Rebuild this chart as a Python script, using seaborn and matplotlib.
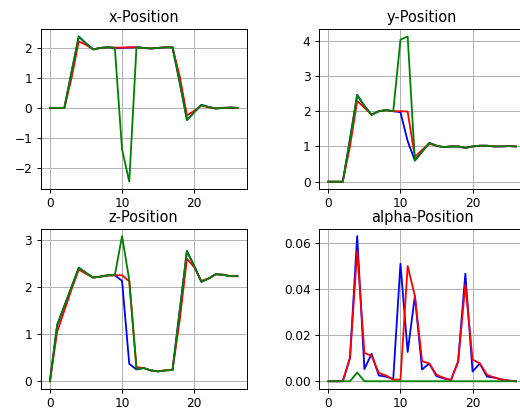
import numpy as np
import pandas as pd
import matplotlib
matplotlib.use('Agg')
import matplotlib.pyplot as plt
import seaborn as sns

# time steps
t = list(range(27))

# x-Position
x_blue = [0, 0, 0, 1.2, 2.38, 2.15, 1.95, 2.0, 2.02, 2.0, 2.0, 2.01, 2.02, 2.0, 1.98, 2.0, 2.02, 2.02,
          0.85, -0.4, -0.15, 0.1, 0.03, -0.02, 0.0, 0.01, 0.0]
x_red = [0, 0, 0, 1.0, 2.22, 2.1, 1.95, 2.0, 2.02, 2.01, 2.01, 2.02, 2.02, 2.0, 1.98, 2.0, 2.02, 2.02,
         1.05, -0.25, -0.1, 0.08, 0.02, -0.02, 0.0, 0.01, 0.0]
x_green = [0, 0, 0, 1.2, 2.38, 2.15, 1.95, 2.0, 2.02, 2.0, -1.38, -2.46, 2.02, 2.0, 1.98, 2.0, 2.02, 2.02,
           0.85, -0.4, -0.15, 0.1, 0.03, -0.02, 0.0, 0.01, 0.0]

# y-Position
y_blue = [0, 0, 0, 1.2, 2.46, 2.15, 1.9, 2.0, 2.03, 2.0, 1.97, 1.15, 0.6, 0.85, 1.1, 1.02, 0.98, 1.0,
          1.0, 0.96, 1.0, 1.02, 1.02, 1.0, 1.0, 1.01, 1.0]
y_red = [0, 0, 0, 1.0, 2.29, 2.1, 1.9, 2.0, 2.03, 2.0, 2.0, 1.99, 0.7, 0.9, 1.08, 1.02, 0.98, 1.0,
         1.0, 0.96, 1.0, 1.02, 1.02, 1.0, 1.0, 1.01, 1.0]
y_green = [0, 0, 0, 1.2, 2.46, 2.15, 1.9, 2.0, 2.03, 2.0, 4.03, 4.12, 0.6, 0.85, 1.1, 1.02, 0.98, 1.0,
           1.0, 0.96, 1.0, 1.02, 1.02, 1.0, 1.0, 1.01, 1.0]

# z-Position
z_blue = [0, 1.19, 1.6, 2.0, 2.41, 2.3, 2.2, 2.22, 2.25, 2.25, 2.13, 0.37, 0.25, 0.28, 0.23, 0.21, 0.23,
          0.24, 1.5, 2.76, 2.45, 2.11, 2.18, 2.27, 2.26, 2.23, 2.23]
z_red = [0, 1.05, 1.5, 1.95, 2.37, 2.28, 2.2, 2.22, 2.24, 2.25, 2.25, 2.12, 0.3, 0.28, 0.23, 0.21, 0.23,
         0.24, 1.3, 2.6, 2.42, 2.13, 2.18, 2.27, 2.26, 2.23, 2.23]
z_green = [0, 1.19, 1.6, 2.0, 2.41, 2.3, 2.2, 2.22, 2.25, 2.25, 3.08, 2.15, 0.26, 0.28, 0.23, 0.21, 0.23,
           0.24, 1.5, 2.76, 2.45, 2.11, 2.18, 2.27, 2.26, 2.23, 2.23]

# alpha-Position
a_blue = [0, 0, 0, 0.0101, 0.063, 0.0053, 0.0119, 0.0025, 0.002, 0.001, 0.051, 0.0127, 0.037, 0.0051,
          0.0077, 0.0022, 0.0012, 0.0005, 0.0087, 0.0467, 0.0042, 0.0077, 0.002, 0.0016, 0.0008, 0.0003, 0.0]
a_red = [0, 0, 0, 0.0101, 0.0565, 0.0123, 0.011, 0.0036, 0.0025, 0.0007, 0.0007, 0.050, 0.037, 0.0087,
         0.0077, 0.0028, 0.0015, 0.0005, 0.0085, 0.042, 0.0094, 0.0078, 0.0028, 0.0016, 0.0008, 0.0003, 0.0]
a_green = [0, 0, 0, 0, 0.0038, 0, 0, 0, 0, 0, 0, 0, 0, 0, 0, 0, 0, 0, 0, 0, 0, 0, 0, 0, 0, 0, 0]

titles = ['x-Position', 'y-Position', 'z-Position', 'alpha-Position']
series = [(x_blue, x_red, x_green), (y_blue, y_red, y_green),
          (z_blue, z_red, z_green), (a_blue, a_red, a_green)]

dpi = 87
fig, axes = plt.subplots(2, 2, figsize=(520 / dpi, 412 / dpi), dpi=dpi)
fig.subplots_adjust(left=0.078, right=1.01, top=0.929, bottom=0.057, wspace=0.35, hspace=0.25)

for ax, title, (b, r, g) in zip(axes.flat, titles, series):
    sns.lineplot(x=t, y=b, color='blue', ax=ax)
    sns.lineplot(x=t, y=r, color='red', ax=ax)
    sns.lineplot(x=t, y=g, color='green', ax=ax)
    ax.set_title(title)
    ax.grid(True)

fig.savefig('out.png', dpi=dpi)
